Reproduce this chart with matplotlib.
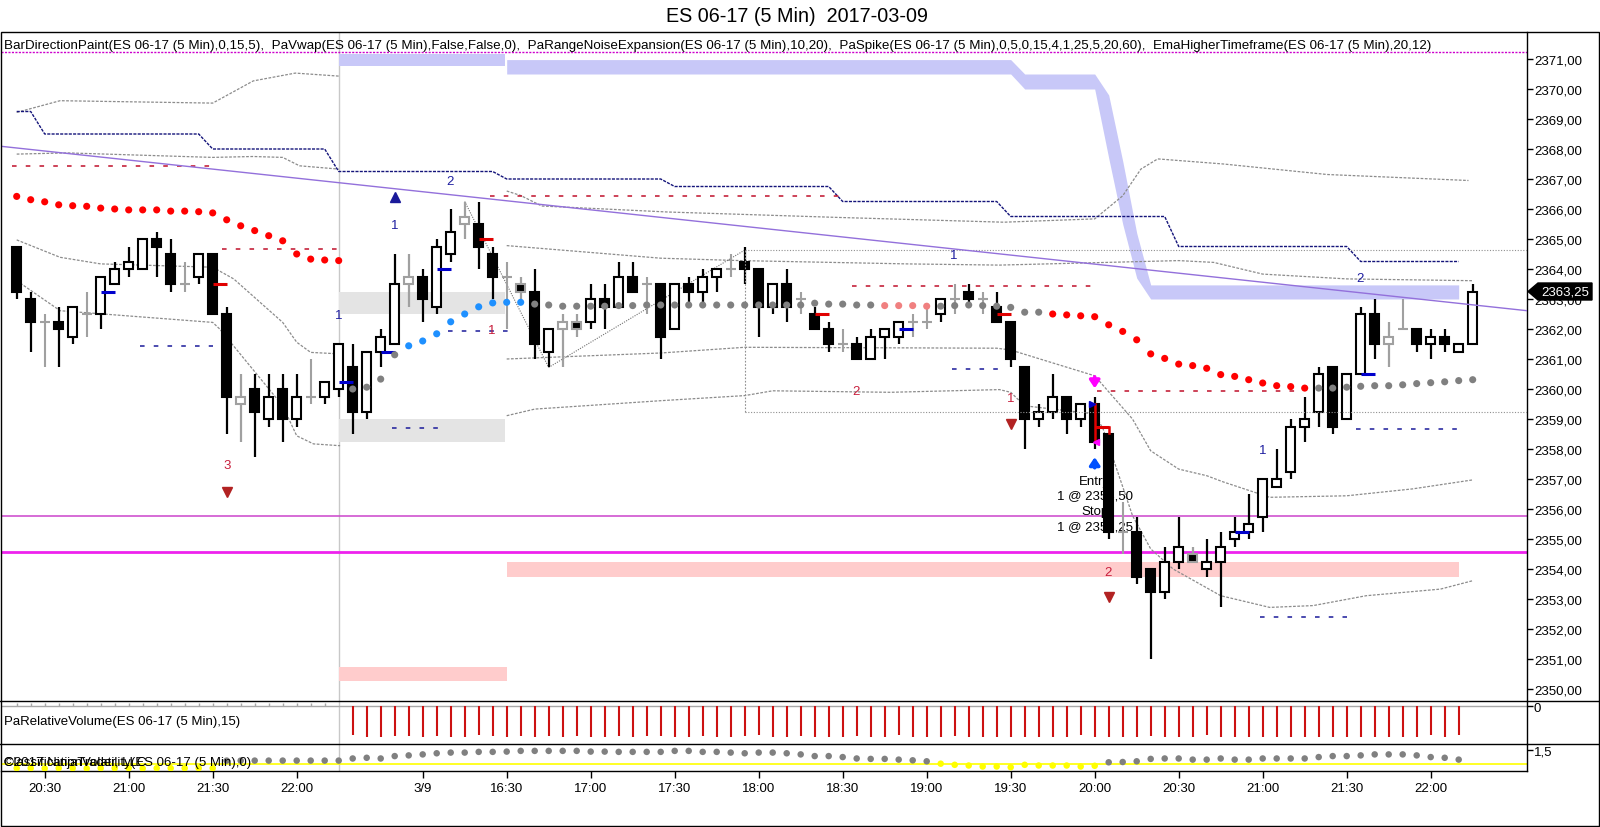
import matplotlib
matplotlib.use("Agg")
import matplotlib.pyplot as plt
from matplotlib.patches import Rectangle, Polygon
from matplotlib.lines import Line2D
from matplotlib.transforms import IdentityTransform

plt.rcParams['font.family'] = ['Liberation Sans', 'DejaVu Sans']

W, H = 1600, 828

# ------------------------------------------------------------------ texts
title_text = "ES 06-17 (5 Min)  2017-03-09"
legend_text = ("BarDirectionPaint(ES 06-17 (5 Min),0,15,5),  PaVwap(ES 06-17 (5 Min),False,False,0),  "
               "PaRangeNoiseExpansion(ES 06-17 (5 Min),10,20),  PaSpike(ES 06-17 (5 Min),0,5,0,15,4,1,25,5,20,60),  "
               "EmaHigherTimeframe(ES 06-17 (5 Min),20,12)")
vol_label = "PaRelativeVolume(ES 06-17 (5 Min),15)"
copyright_text = "\u00a92017 NinjaTrader, LLC"
cls_label = "ClassificationVolatility(ES 06-17 (5 Min),0)"

tick_bars = [2, 8, 14, 20, 29, 35, 41, 47, 53, 59, 65, 71, 77, 83, 89, 95, 101]
tick_labels = ["20:30", "21:00", "21:30", "22:00", "3/9", "16:30", "17:00", "17:30", "18:00",
               "18:30", "19:00", "19:30", "20:00", "20:30", "21:00", "21:30", "22:00"]
price_ticks = list(range(2350, 2372))
session_break = 23

# ------------------------------------------------------------------ candles (bar index 0..104)
opens = [2364.75, 2363.0, 2362.25, 2362.25, 2361.75, 2362.5, 2362.5, 2363.5, 2364.0, 2364.0,
         2365.0, 2364.5, 2363.5, 2363.75, 2364.5, 2362.5, 2359.5, 2360.0, 2359.0, 2360.0,
         2359.0, 2359.75, 2359.75, 2360.0, 2360.75, 2359.25, 2361.25, 2361.5, 2363.5, 2363.75,
         2362.75, 2364.5, 2365.5, 2365.5, 2364.5, 2363.75, 2363.5, 2363.25, 2361.25, 2362.0,
         2362.25, 2362.25, 2363.0, 2362.75, 2363.75, 2363.5, 2363.5, 2362.0, 2363.5, 2363.25,
         2363.75, 2364.0, 2364.25, 2364.0, 2362.75, 2363.5, 2363.0, 2362.5, 2362.0, 2361.5,
         2361.5, 2361.0, 2361.75, 2361.75, 2362.25, 2362.25, 2362.5, 2363.0, 2363.25, 2363.0,
         2362.75, 2362.25, 2360.75, 2359.0, 2359.25, 2359.75, 2359.0, 2359.5, 2358.5, 2355.25,
         2355.25, 2354.0, 2353.25, 2354.25, 2354.5, 2354.0, 2354.25, 2355.0, 2355.25, 2355.75,
         2356.75, 2357.25, 2358.75, 2359.25, 2360.75, 2359.0, 2360.5, 2362.5, 2361.5, 2362.0,
         2362.0, 2361.5, 2361.75, 2361.25, 2361.5]
highs = [2364.75, 2363.25, 2362.5, 2362.75, 2362.75, 2363.25, 2363.75, 2364.25, 2364.75, 2365.0,
         2365.25, 2365.0, 2364.25, 2364.5, 2364.5, 2362.75, 2360.5, 2360.5, 2360.5, 2360.5,
         2360.5, 2361.0, 2360.25, 2361.5, 2361.5, 2361.25, 2362.0, 2364.5, 2364.5, 2364.0,
         2365.0, 2366.0, 2366.25, 2366.25, 2364.75, 2364.25, 2363.75, 2364.0, 2362.0, 2362.5,
         2362.5, 2363.5, 2363.5, 2364.25, 2364.25, 2363.75, 2363.5, 2363.5, 2363.75, 2364.0,
         2364.0, 2364.5, 2364.75, 2364.0, 2363.5, 2364.0, 2363.25, 2362.75, 2362.25, 2362.0,
         2361.75, 2362.0, 2362.0, 2362.25, 2362.5, 2362.75, 2363.0, 2363.5, 2363.5, 2363.25,
         2363.25, 2362.25, 2360.75, 2359.5, 2360.5, 2359.75, 2359.5, 2359.75, 2358.5, 2356.25,
         2355.75, 2354.0, 2354.75, 2355.75, 2354.75, 2355.0, 2355.25, 2355.75, 2356.5, 2357.0,
         2358.0, 2359.0, 2359.75, 2360.75, 2360.75, 2360.5, 2362.75, 2363.0, 2362.25, 2363.0,
         2362.0, 2362.0, 2362.0, 2361.5, 2363.5]
lows = [2363.0, 2361.25, 2360.75, 2360.75, 2361.5, 2361.75, 2362.0, 2363.5, 2363.75, 2364.0,
        2363.75, 2363.25, 2363.25, 2363.5, 2362.5, 2358.5, 2358.25, 2357.75, 2358.75, 2358.25,
        2358.75, 2359.5, 2359.5, 2359.75, 2358.5, 2359.0, 2360.75, 2361.5, 2362.75, 2362.25,
        2362.5, 2364.25, 2365.0, 2364.0, 2363.0, 2362.0, 2363.0, 2361.0, 2360.75, 2360.75,
        2361.75, 2362.0, 2362.0, 2362.75, 2363.25, 2362.5, 2361.0, 2362.0, 2362.75, 2362.75,
        2363.25, 2363.75, 2363.5, 2361.75, 2362.5, 2362.25, 2362.5, 2362.0, 2361.25, 2361.25,
        2361.0, 2361.0, 2361.0, 2361.5, 2361.75, 2362.0, 2362.25, 2362.5, 2362.75, 2362.5,
        2362.25, 2360.75, 2358.0, 2358.75, 2359.0, 2358.5, 2358.75, 2358.0, 2355.0, 2354.5,
        2353.5, 2351.0, 2353.0, 2354.0, 2354.25, 2353.75, 2352.75, 2354.75, 2355.0, 2355.25,
        2356.75, 2357.0, 2358.25, 2358.75, 2358.5, 2359.0, 2360.5, 2361.0, 2360.75, 2362.0,
        2361.25, 2361.0, 2361.25, 2361.25, 2361.5]
closes = [2363.25, 2362.25, 2362.25, 2362.0, 2362.75, 2362.5, 2363.75, 2364.0, 2364.25, 2365.0,
          2364.75, 2363.5, 2363.5, 2364.5, 2362.5, 2359.75, 2359.75, 2359.25, 2359.75, 2359.0,
          2359.75, 2359.75, 2360.25, 2361.5, 2359.25, 2361.25, 2361.75, 2363.5, 2363.75, 2363.0,
          2364.75, 2365.25, 2365.75, 2364.75, 2363.75, 2363.75, 2363.25, 2361.5, 2362.0, 2362.25,
          2362.0, 2363.0, 2362.75, 2363.75, 2363.25, 2363.5, 2361.75, 2363.5, 2363.25, 2363.75,
          2364.0, 2364.0, 2364.0, 2362.75, 2363.5, 2362.75, 2363.0, 2362.0, 2361.5, 2361.5,
          2361.0, 2361.75, 2362.0, 2362.25, 2362.25, 2362.25, 2363.0, 2363.0, 2363.0, 2363.0,
          2362.25, 2361.0, 2359.0, 2359.25, 2359.75, 2359.0, 2359.5, 2358.25, 2355.25, 2355.25,
          2353.75, 2353.25, 2354.25, 2354.75, 2354.25, 2354.25, 2354.75, 2355.25, 2355.5, 2357.0,
          2357.0, 2358.75, 2359.0, 2360.5, 2358.75, 2360.5, 2362.5, 2361.5, 2361.75, 2362.0,
          2361.5, 2361.75, 2361.5, 2361.5, 2363.25]
# k = black, w = white, d = gray doji cross, g = gray hollow, x = gray edged black
styles = list("kkdkwdwwww" "kkdwkkgkwk" "wdwwkwwwgk" "wwgkkdxkwg" "xwkwkdkwkw"
              "wdkkwkdkkd" "kwwwddwdkd" "kkkwwkwkkd" "kkwwxwwwww" "wwwwkwwkgd" "kwkww")

# ------------------------------------------------------------------ dotted EMA (one dot per bar)
ema_vals = [2366.42, 2366.31, 2366.24, 2366.14, 2366.11, 2366.09, 2366.03, 2366.0, 2365.97, 2365.97,
            2365.97, 2365.93, 2365.93, 2365.91, 2365.87, 2365.64, 2365.44, 2365.28, 2365.11, 2364.94,
            2364.5, 2364.33, 2364.3, 2364.28, 2360.0, 2360.06, 2360.33, 2361.14, 2361.44, 2361.6,
            2361.84, 2362.24, 2362.5, 2362.74, 2362.87, 2362.89, 2362.89, 2362.83, 2362.8, 2362.76,
            2362.76, 2362.76, 2362.76, 2362.78, 2362.78, 2362.8, 2362.8, 2362.8, 2362.8, 2362.8,
            2362.8, 2362.8, 2362.8, 2362.8, 2362.8, 2362.8, 2362.8, 2362.86, 2362.83, 2362.83,
            2362.8, 2362.8, 2362.78, 2362.78, 2362.78, 2362.76, 2362.76, 2362.78, 2362.8, 2362.78,
            2362.76, 2362.72, 2362.56, 2362.56, 2362.5, 2362.47, 2362.44, 2362.41, 2362.14, 2361.92,
            2361.64, 2361.17, 2361.02, 2360.83, 2360.78, 2360.69, 2360.48, 2360.42, 2360.31, 2360.2,
            2360.11, 2360.08, 2360.03, 2360.03, 2360.03, 2360.06, 2360.09, 2360.11, 2360.11, 2360.14,
            2360.18, 2360.21, 2360.24, 2360.28, 2360.31]
ema_runs = [(0, 23, 'red'), (24, 27, 'gray'), (28, 36, 'blue'), (37, 61, 'gray'),
            (62, 65, 'pink'), (66, 73, 'gray'), (74, 92, 'red'), (93, 104, 'gray')]

# ------------------------------------------------------------------ navy step line (level per bar run)
step_runs = [(0, 1, 2369.25), (2, 13, 2368.5), (14, 22, 2368.0), (23, 34, 2367.25), (35, 46, 2367.0),
             (47, 58, 2366.75), (59, 70, 2366.25), (71, 82, 2365.75), (83, 95, 2364.75), (96, 103, 2364.25)]

# ------------------------------------------------------------------ gray dashed envelope curves (bar, price)
s1a_x = [0, 3.1, 14, 16.9, 19.9, 23]
s1a_p = [2369.22, 2369.61, 2369.53, 2370.27, 2370.53, 2370.43]
s1b_x = [0, 3.6, 14, 16.9, 19, 20.2, 23]
s1b_p = [2367.83, 2367.87, 2367.72, 2367.75, 2367.72, 2367.44, 2367.33]
s1c_x = [0, 3.1, 6, 14, 15.5, 19, 20, 21, 23.1]
s1c_p = [2364.97, 2364.39, 2364.17, 2364.06, 2363.67, 2362.22, 2361.56, 2361.22, 2361.17]
s1d_x = [0, 3.1, 14, 14.5, 19, 20, 21.2, 23.1]
s1d_p = [2363.61, 2362.61, 2362.22, 2362.0, 2359.44, 2358.44, 2358.17, 2358.11]
s2a_x = [35, 36, 37.5, 46.5, 58.6, 70.5, 77, 79, 80.3, 81.5, 86.2, 93.6, 103.7]
s2a_p = [2366.6, 2366.45, 2366.1, 2365.9, 2365.72, 2365.56, 2365.67, 2366.44, 2367.33, 2367.67,
         2367.5, 2367.15, 2366.95]
s2b_x = [35, 46, 51.7, 63.6, 70.2, 83, 85.5, 89, 95, 104]
s2b_p = [2364.78, 2364.36, 2364.28, 2364.17, 2364.13, 2364.28, 2364.22, 2363.83, 2363.67, 2363.61]
s2c_x = [35, 46, 52, 70, 71, 77, 79.7, 81, 83, 85, 86.2, 89.5, 95, 99.7, 104]
s2c_p = [2361.0, 2361.2, 2361.39, 2361.36, 2361.3, 2360.44, 2359.0, 2357.94, 2357.33, 2357.11,
         2356.9, 2356.39, 2356.44, 2356.67, 2356.97]
s2d_x = [35, 37, 46, 52, 54, 62.4, 70.2, 71, 72, 77, 77.6, 79.7, 81, 82.6, 86, 89.5, 92.6, 96.4, 101.7, 104]
s2d_p = [2359.11, 2359.33, 2359.61, 2359.78, 2359.94, 2359.89, 2359.98, 2359.89, 2359.44, 2359.17,
         2358.67, 2355.78, 2354.67, 2354.0, 2353.11, 2352.72, 2352.78, 2353.11, 2353.33, 2353.61]

# zigzag + range box (dotted)
zig_x = [32, 38, 52]
zig_p = [2366.25, 2360.72, 2364.63]
range_start = 52
range_hi = 2364.63
range_lo = 2359.22

# ------------------------------------------------------------------ short dashed levels (start, end, price)
red_levels = [(-0.3, 14.0, 2367.45), (14.7, 23.1, 2364.67), (33.8, 59.2, 2366.44),
              (59.7, 77.2, 2363.44), (77.2, 91.9, 2359.94)]
navy_levels = [(8.8, 14.0, 2361.44), (26.8, 30.1, 2358.69), (30.8, 35.2, 2361.92),
               (66.8, 70.2, 2360.67), (95.7, 103.0, 2358.67), (88.8, 95.0, 2352.4)]

# ------------------------------------------------------------------ zones
lav_a = (23, 34.9, 2370.78, 2371.17)
lav_x = [35, 71, 72, 77, 78, 79, 80, 81, 103]
lav_hi = [2370.98, 2370.98, 2370.5, 2370.5, 2369.8, 2367.6, 2365.2, 2363.47, 2363.47]
lav_lo = [2370.5, 2370.5, 2370.0, 2370.0, 2367.7, 2365.5, 2363.7, 2363.0, 2363.0]
pink_zones = [(35, 103, 2353.72, 2354.22), (23, 35, 2350.27, 2350.73)]
gray_zones = [(23, 34.9, 2362.5, 2363.22), (23, 34.9, 2358.24, 2359.0)]
magenta_thin = 2355.78
magenta_thick = 2354.56
magenta_top = 2371.24

trend_x = [-1.12, 107.88]
trend_p = [2368.09, 2362.61]

# ------------------------------------------------------------------ small markers
blue_ticks = [(6, 2363.22), (23, 2360.25), (26, 2361.25), (30, 2364.0), (63, 2362.0), (87, 2355.22), (96, 2360.5)]
red_ticks = [(14, 2363.5), (33, 2365.0), (57, 2362.5), (70, 2362.5), (77, 2358.75)]
navy_nums = [(27.0, 2365.47, "1"), (23.0, 2362.47, "1"), (30.95, 2366.94, "2"), (66.95, 2364.47, "1"),
             (89.0, 2357.97, "1"), (95.95, 2363.69, "2")]
red_nums = [(33.95, 2361.98, "1"), (15.0, 2357.47, "3"), (59.95, 2359.94, "2"),
            (71.0, 2359.69, "1"), (77.97, 2353.91, "2")]
red_tris = [(15.0, 2356.57), (71.0, 2358.83), (78.0, 2353.06)]
navy_tris = [(27.0, 2366.4)]
trade_bar = 77
trade_lines = ["Entry", "1 @ 2358,50", "Stop", "1 @ 2359,25"]
trade_line_p = [2356.94, 2356.45, 2355.93, 2355.42]

# ------------------------------------------------------------------ sub panels
vol_start = 24
vol_vals = [-1.15, -1.21, -1.21, -1.17, -1.17, -1.21, -1.17, -1.21, -1.21, -1.15,
            -1.17, -1.21, -1.17, -1.21, -1.17, -1.21, -1.17, -1.21, -1.21, -1.17,
            -1.21, -1.17, -1.17, -1.21, -1.21, -1.17, -1.21, -1.21, -1.17, -1.15,
            -1.21, -1.21, -1.17, -1.21, -1.21, -1.21, -1.17, -1.21, -1.21, -1.15,
            -1.21, -1.21, -1.21, -1.17, -1.21, -1.21, -1.21, -1.21, -1.21, -1.21,
            -1.21, -1.21, -1.15, -1.21, -1.21, -1.21, -1.21, -1.17, -1.21, -1.21,
            -1.21, -1.15, -1.21, -1.21, -1.21, -1.21, -1.21, -1.21, -1.21, -1.21,
            -1.21, -1.21, -1.21, -1.21, -1.21, -1.21, -1.21, -1.15, -1.21, -1.15]
cls_vals = [0.2, 0.2, 0.18, 0.2, 0.2, 0.18, 0.2, 0.2, 0.2, 0.18,
            0.2, 0.2, 0.2, 0.2, 0.2, 0.74, 0.74, 0.74, 0.74, 0.74,
            0.74, 0.74, 0.74, 0.74, 0.89, 0.94, 0.89, 1.06, 1.11, 1.18,
            1.26, 1.31, 1.31, 1.36, 1.36, 1.38, 1.43, 1.43, 1.43, 1.43,
            1.43, 1.38, 1.38, 1.36, 1.36, 1.36, 1.36, 1.43, 1.43, 1.36,
            1.36, 1.31, 1.26, 1.31, 1.31, 1.26, 1.18, 1.06, 1.06, 0.99,
            0.89, 0.86, 0.86, 0.81, 0.76, 0.69, 0.52, 0.44, 0.39, 0.32,
            0.32, 0.27, 0.44, 0.39, 0.39, 0.39, 0.32, 0.37, 0.62, 0.64,
            0.69, 0.86, 0.89, 0.89, 0.81, 0.81, 0.89, 0.81, 0.81, 0.89,
            0.89, 0.89, 0.89, 0.99, 1.06, 1.06, 1.11, 1.18, 1.18, 1.18,
            1.11, 0.99, 0.94, 0.81]
cls_runs = [(0, 14, 'yellow'), (15, 65, 'gray'), (66, 77, 'yellow'), (78, 103, 'gray')]
cls_line = 0.49

# ================================================================== drawing
COL = {'red': '#ff0000', 'gray': '#808080', 'blue': '#1e90ff', 'pink': '#f08080', 'yellow': '#ffff00'}
NAVY = '#1e1ea0'
CRIMSON = '#c81e3c'
GRAY = '#a0a0a0'

fig = plt.figure(figsize=(W / 100, H / 100), dpi=100)
fig.patch.set_facecolor('white')


def frac(x0, y0, x1, y1):
    return [x0 / W, 1 - y1 / H, (x1 - x0) / W, (y1 - y0) / H]


def fp(x, y):
    return (x / W, 1 - y / H)


XL = (-1.1214, 107.879)
ax = fig.add_axes(frac(1, 33, 1527, 702))
axv = fig.add_axes(frac(1, 702, 1527, 745))
axb = fig.add_axes(frac(1, 745, 1527, 772))
for a in (ax, axv, axb):
    a.set_xlim(*XL)
    a.set_facecolor('none')
    for s in ('left', 'top', 'bottom'):
        a.spines[s].set_visible(False)
    a.spines['right'].set_color('black')
    a.spines['right'].set_linewidth(1.0)
    a.yaxis.tick_right()
    a.tick_params(axis='y', direction='out', length=4, width=1, labelsize=9.5, pad=1, colors='black')
    a.axvline(session_break, color='#c8c8c8', lw=1, zorder=1)

ax.set_ylim(2349.6, 2371.9)
ax.set_yticks(price_ticks)
ax.set_yticklabels([f"{p},00" for p in price_ticks])
ax.set_xticks([])
axv.set_xticks([])

# zones
ax.fill_between([lav_a[0], lav_a[1]], lav_a[2], lav_a[3], color='#c8c8f8', lw=0, zorder=1)
ax.fill_between(lav_x, lav_lo, lav_hi, color='#c8c8f8', lw=0, zorder=1)
for x0, x1, lo, hi in pink_zones:
    ax.fill_between([x0, x1], lo, hi, color='#ffcccc', lw=0, zorder=1)
for x0, x1, lo, hi in gray_zones:
    ax.fill_between([x0, x1], lo, hi, color='#e4e4e4', lw=0, zorder=1)

# horizontal magenta lines
ax.axhline(magenta_thin, color='#cc44cc', lw=1.1, zorder=2)
ax.axhline(magenta_thick, color='#ee22ee', lw=2.0, zorder=2)
ax.axhline(magenta_top, color='#cc00cc', lw=1.0, ls=(0, (1.5, 1)), zorder=2)

# gray envelopes
for xs, ps in ((s1a_x, s1a_p), (s1b_x, s1b_p), (s1c_x, s1c_p), (s1d_x, s1d_p),
               (s2a_x, s2a_p), (s2b_x, s2b_p), (s2c_x, s2c_p), (s2d_x, s2d_p)):
    ax.plot(xs, ps, color='#8c8c8c', lw=0.9, ls=(0, (2.2, 1.2)), zorder=2)

# navy step line
step_x, step_p = [], []
for a0, a1, lvl in step_runs:
    for b in range(a0, a1 + 1):
        step_x.append(b)
        step_p.append(lvl)
ax.plot(step_x, step_p, color='#14147a', lw=1.0, ls=(0, (2.2, 0.9)), zorder=2)

# short dashed levels
for x0, x1, p in red_levels:
    ax.plot([x0, x1], [p, p], color='#c0102a', lw=1.1, ls=(0, (3, 6)), zorder=2)
for x0, x1, p in navy_levels:
    ax.plot([x0, x1], [p, p], color='#1a1a9a', lw=1.1, ls=(0, (3, 6)), zorder=2)

# zigzag & range box
ax.plot(zig_x, zig_p, color='#707070', lw=0.8, ls=(0, (1, 1.2)), zorder=2)
ax.plot([range_start, XL[1]], [range_hi, range_hi], color='#909090', lw=0.8, ls=(0, (1, 1.5)), zorder=5)
ax.plot([range_start, XL[1]], [range_lo, range_lo], color='#909090', lw=0.8, ls=(0, (1, 1.5)), zorder=5)
ax.plot([range_start, range_start], [range_lo, range_hi], color='#909090', lw=0.8, ls=(0, (1.5, 1.5)), zorder=5)

# trade texts (beneath candles so the next bar hides part of them)
for s, p in zip(trade_lines, trade_line_p):
    ax.text(trade_bar, p, s, ha='center', va='center', fontsize=9.5, color='black', zorder=3.5)

# candles
BW = 0.64
for i, (o, h, l, c, s) in enumerate(zip(opens, highs, lows, closes, styles)):
    if s == 'd':
        ax.vlines(i, l, h, color=GRAY, lw=1.5, zorder=4)
        ax.hlines(o, i - 0.36, i + 0.36, color=GRAY, lw=1.5, zorder=4)
        continue
    edge = GRAY if s in 'gx' else 'black'
    face = 'white' if s in 'wg' else 'black'
    ax.vlines(i, l, h, color=edge, lw=1.6, zorder=3.8)
    ax.bar(i, abs(c - o), bottom=min(o, c), width=BW, color=face, edgecolor=edge, lw=1.5, zorder=4)

# trend line
ax.plot(trend_x, trend_p, color='#9370db', lw=1.0, zorder=5)

# ticks
for b, p in blue_ticks:
    ax.plot([b, b + 1], [p, p], color='#0000cc', lw=2.2, solid_capstyle='butt', zorder=5)
for b, p in red_ticks:
    ax.plot([b, b + 1], [p, p], color='#e00000', lw=2.2, solid_capstyle='butt', zorder=5)

# trade markers
ax.plot([trade_bar, trade_bar], [opens[trade_bar], closes[trade_bar] + 0.05], color='#e00000', lw=1.8, zorder=5)
ax.plot([trade_bar + 1, trade_bar + 1], [2358.75, 2358.55], color='#e00000', lw=1.8, zorder=5)
ax.annotate('', xy=(trade_bar, 2359.93), xytext=(trade_bar, 2360.5),
            arrowprops=dict(arrowstyle='-|>,head_width=0.3,head_length=0.45', color='#ff00ff', lw=2.5),
            zorder=6)
ax.annotate('', xy=(trade_bar, 2357.82), xytext=(trade_bar, 2357.28),
            arrowprops=dict(arrowstyle='-|>,head_width=0.3,head_length=0.45', color='#0050ff', lw=2.5),
            zorder=6)
ax.plot([trade_bar + 0.12], [2358.22], marker='<', color='#ff00ff', ms=4, zorder=6)
ax.plot([trade_bar - 0.2], [2359.5], marker='>', color='#0000cc', ms=4, zorder=6)

# dotted EMA
ema_col = [None] * len(ema_vals)
for a0, a1, c in ema_runs:
    for b in range(a0, a1 + 1):
        ema_col[b] = COL[c]
ax.scatter(range(len(ema_vals)), ema_vals, s=26, c=ema_col, lw=0, zorder=6)

# numbers & triangles
for b, p, s in navy_nums:
    ax.text(b, p, s, color=NAVY, fontsize=9.5, ha='center', va='center', zorder=6)
for b, p, s in red_nums:
    ax.text(b, p, s, color=CRIMSON, fontsize=9.5, ha='center', va='center', zorder=6)
for b, p in red_tris:
    ax.plot([b], [p], marker='v', color='#b22222', ms=6.5, zorder=6)
for b, p in navy_tris:
    ax.plot([b], [p], marker='^', color='#1a1a9a', ms=6.5, zorder=6)

# ---- relative volume panel
axv.set_ylim(-1.5, 0.2)
axv.set_yticks([0])
axv.set_yticklabels(['0'])
axv.axhline(0, color='#a8a8a8', lw=1, zorder=1)
axv.vlines(range(0, session_break), 0, 0.12, color='#a8a8a8', lw=1, zorder=2)
axv.vlines(range(vol_start, vol_start + len(vol_vals)), vol_vals, 0, color='#cc1111', lw=1.5, zorder=3)

# ---- classification panel
axb.set_ylim(0, 1.92)
axb.set_yticks([1.5])
axb.set_yticklabels(['1,5'])
axb.axhline(cls_line, color='#ffff00', lw=1.2, zorder=1)
cls_col = [None] * len(cls_vals)
for a0, a1, c in cls_runs:
    for b in range(a0, a1 + 1):
        cls_col[b] = COL[c]
axb.scatter(range(len(cls_vals)), cls_vals, s=22, c=cls_col, lw=0, zorder=3)
axb.set_xticks(tick_bars)
axb.set_xticklabels(tick_labels)
axb.tick_params(axis='x', direction='out', length=5, width=1, labelsize=9.5, pad=3, bottom=True)
axb.spines['bottom'].set_visible(True)
axb.spines['bottom'].set_linewidth(1.0)

# ---- frame and dividers
fig.add_artist(Rectangle((0.5 / W, 1 - 827 / H), 1598.5 / W, (827 - 33) / H, transform=fig.transFigure,
                         fill=False, ec='black', lw=1.0))
for yy in (702, 745):
    fig.add_artist(Line2D([0, 1], [1 - yy / H] * 2, transform=fig.transFigure, color='black', lw=1.0))

# ---- texts (the two labels of the bottom panel overlap in the original chart too)
t_title = fig.text(*fp(796.5, 17), title_text, ha='center', va='center', fontsize=14, color='black')
t_leg = fig.text(*fp(4, 46), legend_text, ha='left', va='center', fontsize=9.5, color='black')
fig.text(*fp(4, 722), vol_label, ha='left', va='center', fontsize=9.5, color='black')
fig.text(*fp(4, 763), cls_label, ha='left', va='center', fontsize=9.5, color='black')
fig.text(*fp(4, 763), copyright_text, ha='left', va='center', fontsize=9.5, color='black')

fig.canvas.draw()
r = fig.canvas.get_renderer()
for t, target in ((t_title, 263.0), (t_leg, 1431.0)):
    wpx = t.get_window_extent(r).width
    t.set_fontsize(t.get_fontsize() * target / wpx)

# ---- last price tag
yl = ax.transData.transform((0, closes[-1]))[1]
tag = Polygon([(1528, yl), (1538, yl + 8.5), (1592, yl + 8.5), (1592, yl - 8.5), (1538, yl - 8.5)],
              closed=True, transform=IdentityTransform(), fc='black', ec='black', zorder=10)
fig.add_artist(tag)
fig.text(1565, yl, f"{closes[-1]:.2f}".replace('.', ','), transform=IdentityTransform(),
         ha='center', va='center', fontsize=9.5, color='white', zorder=11)

fig.savefig("out.png", dpi=100, facecolor='white')
